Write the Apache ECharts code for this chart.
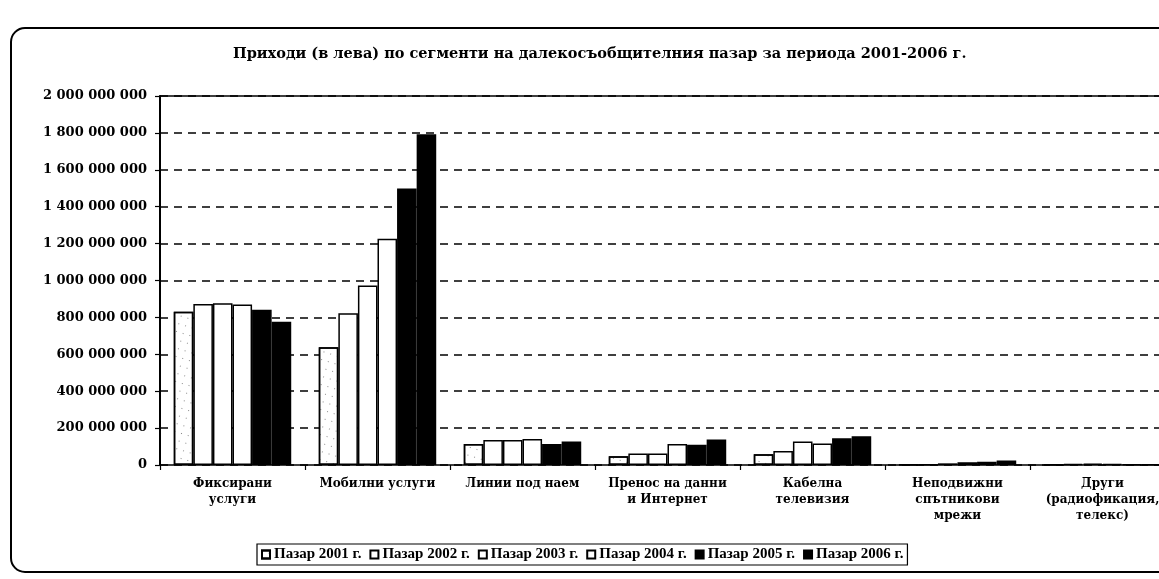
<!DOCTYPE html>
<html><head><meta charset="utf-8">
<script src="https://cdn.jsdelivr.net/npm/echarts@6/dist/echarts.min.js"></script>
<style>html,body{margin:0;padding:0;overflow:hidden;background:#fff;width:1159px;height:579px}#c{width:1180px;height:579px}</style>
</head><body><div id="c"></div>
<script>
const titleText = 'Приходи (в лева) по сегменти на далекосъобщителния пазар за периода 2001-2006 г.';
const categories = ['Фиксирани\nуслуги','Мобилни услуги','Линии под наем','Пренос на данни\nи Интернет','Кабелна\nтелевизия','Неподвижни\nспътникови\nмрежи','Други\n(радиофикация,\nтелекс)'];
const seriesNames = ['Пазар 2001 г.','Пазар 2002 г.','Пазар 2003 г.','Пазар 2004 г.','Пазар 2005 г.','Пазар 2006 г.'];
const v2001 = [830000000, 638000000, 114000000, 47000000, 58000000, 2000000, 3000000];
const v2002 = [873000000, 822000000, 136000000, 62000000, 76000000, 4000000, 6000000];
const v2003 = [877000000, 973000000, 136000000, 62000000, 127000000, 9000000, 7000000];
const v2004 = [870000000, 1226000000, 141000000, 114000000, 116000000, 15000000, 6000000];
const v2005 = [842000000, 1498000000, 114000000, 110000000, 145000000, 18000000, 4000000];
const v2006 = [777000000, 1793000000, 127000000, 138000000, 156000000, 24000000, 4000000];
const yTicks = {min: 0, max: 2000000000, interval: 200000000};

const FONT = '"DejaVu Serif", "Liberation Serif", serif';
const LFONT = '"Liberation Serif", "DejaVu Serif", serif';
const values = [v2001, v2002, v2003, v2004, v2005, v2006];
const fills = ['#ffffff','#ffffff','#ffffff','#ffffff','#000000','#000000'];

const chart = echarts.init(document.getElementById('c'), null, {renderer:'canvas'});
const series = values.map((d, i) => {
  const s = {
    name: seriesNames[i], type: 'bar', data: d,
    barGap: '0%', barCategoryGap: '19%',
    itemStyle: {color: fills[i], borderColor: '#000', borderWidth: 1.5}
  };
  if (i === 0) {
    s.itemStyle.decal = {symbol: 'rect', symbolSize: 1, color: 'rgba(0,0,0,0.45)', dashArrayX: [1, 6], dashArrayY: [1, 7], rotation: 0.3};
  }
  return s;
});

chart.setOption({
  animation: false,
  backgroundColor: '#fff',
  title: {text: titleText, left: 228, top: 42,
    textStyle: {fontFamily: FONT, fontWeight: 'bold', fontSize: 14.5, color: '#000'}},
  graphic: [{type: 'rect', shape: {x: 11, y: 28, width: 1200, height: 544, r: 14},
    style: {fill: null, stroke: '#000', lineWidth: 2}, z: 0}],
  legend: {data: seriesNames, left: 257, top: 544, orient: 'horizontal', icon: 'rect',
    itemWidth: 8, itemHeight: 8, itemGap: 8, padding: [3, 4, 3, 4],
    borderColor: '#000', borderWidth: 1.2,
    textStyle: {fontFamily: LFONT, fontWeight: 'bold', fontSize: 15, color: '#000', padding: [0,0,0,-1]}},
  grid: {left: 160, right: 5, top: 96, bottom: 114},
  xAxis: [{
    type: 'category', data: categories,
    axisLine: {show: true, lineStyle: {color: '#000', width: 1.5}},
    axisTick: {show: true, length: 5, lineStyle: {color: '#000', width: 1.2}},
    axisLabel: {interval: 0, margin: 11, lineHeight: 16, fontFamily: FONT, fontWeight: 'bold', fontSize: 12, color: '#000'},
    splitLine: {show: false}
  }, {
    type: 'category', data: categories, position: 'top',
    axisLine: {show: true, lineStyle: {color: '#000', width: 1.5}},
    axisTick: {show: false}, axisLabel: {show: false}, splitLine: {show: false}
  }],
  yAxis: {
    type: 'value', min: yTicks.min, max: yTicks.max, interval: yTicks.interval,
    axisLine: {show: true, lineStyle: {color: '#000', width: 2}},
    axisTick: {show: true, length: 5, lineStyle: {color: '#000', width: 1.2}},
    axisLabel: {margin: 13, fontFamily: FONT, fontWeight: 'bold', fontSize: 13, color: '#000',
      formatter: v => String(v).replace(/\B(?=(\d{3})+(?!\d))/g, ' ')},
    splitLine: {show: true, lineStyle: {color: '#000', type: [8, 6], width: 1.5}}
  },
  series: series
});
</script></body></html>
